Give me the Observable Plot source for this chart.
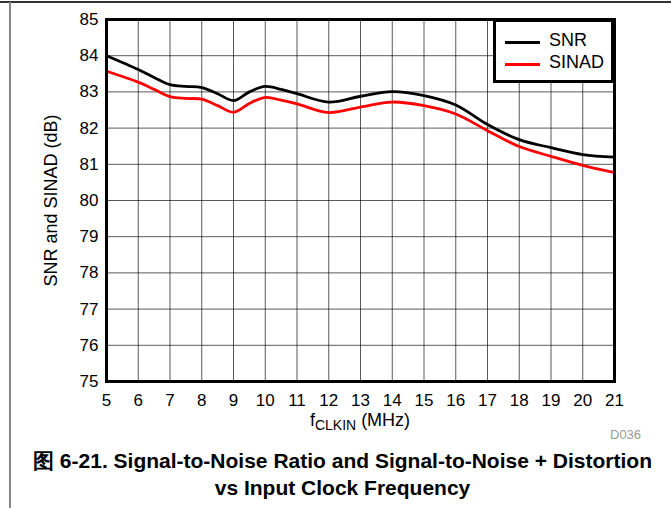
<!DOCTYPE html>
<html>
<head>
<meta charset="utf-8">
<script src="https://cdn.jsdelivr.net/npm/d3@7"></script>
<script src="https://cdn.jsdelivr.net/npm/@observablehq/plot@0.6"></script>
<style>
  html, body { margin: 0; padding: 0; background: #fff; }
  body { width: 671px; height: 508px; position: relative; overflow: hidden; font-family: "Liberation Sans", Arial, sans-serif; }
  #chart { position: absolute; left: 0; top: 0; }
  .topline { position: absolute; left: 0; top: 1px; width: 671px; height: 2px; background: #333; }
  .leftline { position: absolute; left: 9px; top: 2px; width: 2px; height: 506px; background: #888; }
  #legend { position: absolute; left: 493px; top: 19px; width: 115px; height: 58px; border: 3px solid #000; background: #fff; box-sizing: content-box; }
  .lg { position: absolute; left: 9px; font-size: 18px; }
  .lg span.sw { position: absolute; left: 0; width: 35px; height: 3px; }
  .lg span.tx { position: absolute; left: 44px; top: -11px; white-space: nowrap; }
  #xlabel { position: absolute; left: 240px; width: 240px; top: 410px; text-align: center; font-size: 18px; }
  #xlabel sub { font-size: 14px; vertical-align: -4px; }
  #code { position: absolute; left: 610px; top: 427px; font-size: 13px; color: #9a9a9a; }
  #title { position: absolute; left: 14px; width: 657px; top: 447px; text-align: center; font-weight: bold; font-size: 21px; line-height: 27px; }
</style>
</head>
<body>
<div class="topline"></div>
<div class="leftline"></div>
<div id="chart"></div>
<div id="legend"></div>
<div id="xlabel">f<sub>CLKIN</sub> (MHz)</div>
<div id="code">D036</div>
<div id="title"></div>
<script>
const freq  = [5, 6, 6.5, 7, 7.5, 8, 8.5, 9, 9.5, 10, 10.5, 11, 12, 13, 14, 15, 16, 17, 18, 19, 20, 21];
const snr   = [84.0, 83.62, 83.4, 83.2, 83.15, 83.12, 82.95, 82.76, 83.0, 83.15, 83.07, 82.95, 82.72, 82.88, 83.01, 82.9, 82.64, 82.1, 81.68, 81.46, 81.27, 81.2];
const sinad = [83.57, 83.27, 83.07, 82.87, 82.82, 82.8, 82.62, 82.44, 82.68, 82.85, 82.77, 82.67, 82.43, 82.58, 82.72, 82.62, 82.39, 81.93, 81.49, 81.22, 80.97, 80.77];
const seriesNames = ["SNR", "SINAD"];
const seriesColors = ["#000000", "#ff0000"];
const xTicks = [5, 6, 7, 8, 9, 10, 11, 12, 13, 14, 15, 16, 17, 18, 19, 20, 21];
const yTicks = [75, 76, 77, 78, 79, 80, 81, 82, 83, 84, 85];
const yLabel = "SNR and SINAD (dB)";
const titleLines = ["图 6-21. Signal-to-Noise Ratio and Signal-to-Noise + Distortion", "vs Input Clock Frequency"];

const data = [];
freq.forEach((f, i) => {
  data.push({f, v: snr[i], s: seriesNames[0]});
  data.push({f, v: sinad[i], s: seriesNames[1]});
});

const chart = Plot.plot({
  width: 671,
  height: 445,
  marginLeft: 106,
  marginRight: 57,
  marginTop: 19,
  marginBottom: 64,
  style: { fontFamily: "'Liberation Sans', Arial, sans-serif", fontSize: "17px", color: "#000", background: "transparent" },
  x: { domain: [5, 21], ticks: xTicks },
  y: { domain: [75, 85], ticks: yTicks },
  color: { domain: seriesNames, range: seriesColors },
  marks: [
    Plot.gridX(xTicks, { stroke: "#000", strokeOpacity: 0.65, strokeWidth: 1 }),
    Plot.gridY(yTicks, { stroke: "#000", strokeOpacity: 0.65, strokeWidth: 1 }),
    Plot.line(data, { x: "f", y: "v", z: "s", stroke: "s", strokeWidth: 2.8, curve: "catmull-rom" }),
    Plot.frame({ stroke: "#000", strokeWidth: 3 }),
    Plot.axisX(xTicks, { tickSize: 0, tickPadding: 12, fontSize: 17, label: null, tickFormat: d => String(d) }),
    Plot.axisY(yTicks, { tickSize: 0, tickPadding: 8, fontSize: 17, label: null, tickFormat: d => String(d) }),
    Plot.axisY({ ticks: [], tickSize: 0, fontSize: 18, label: yLabel, labelAnchor: "center", labelOffset: 62, labelArrow: "none" })
  ]
});
document.getElementById("chart").appendChild(chart);

const lg = document.getElementById("legend");
seriesNames.forEach((n, i) => {
  const row = document.createElement("div");
  row.className = "lg";
  row.style.top = (19 + i * 22) + "px";
  row.innerHTML = `<span class="sw" style="background:${seriesColors[i]}"></span><span class="tx">${n}</span>`;
  lg.appendChild(row);
});
document.getElementById("title").innerHTML = titleLines.join("<br>");
</script>
</body>
</html>
